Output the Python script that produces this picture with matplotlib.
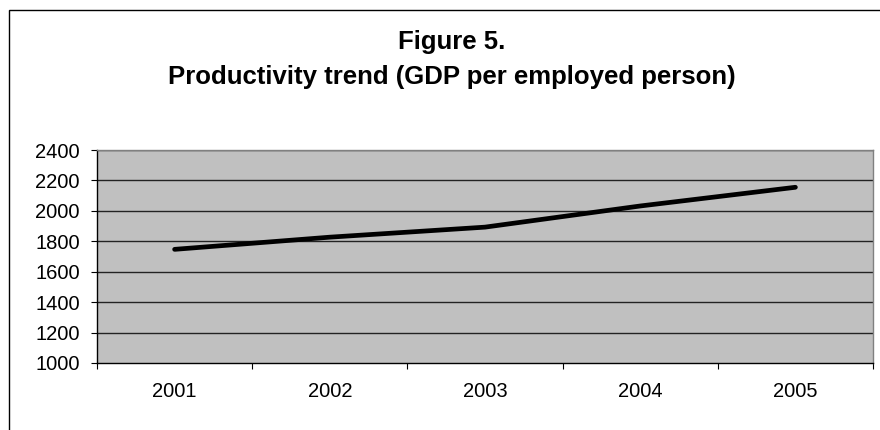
import matplotlib
matplotlib.use('Agg')
from matplotlib import pyplot as plt
from matplotlib.patches import Rectangle
import numpy as np

plt.rcParams['font.family'] = ['Liberation Sans', 'DejaVu Sans']

years = ['2001', '2002', '2003', '2004', '2005']
gdp_per_employed = [1747, 1827, 1893, 2032, 2155]
y_ticks = [1000, 1200, 1400, 1600, 1800, 2000, 2200, 2400]

fig = plt.figure(figsize=(8.8, 4.3), dpi=100)

# outer chart frame (runs off the right and bottom of the picture)
fig.patches.append(Rectangle((9 / 880, -0.05), 1.2, 1 - 10 / 430 + 0.05,
                             transform=fig.transFigure, fill=False,
                             edgecolor='black', linewidth=1.0))

fig.text(452 / 880, 1 - 42 / 430, 'Figure 5.', ha='center', va='center',
         fontsize=18.5, fontweight='bold')
fig.text(452 / 880, 1 - 77 / 430, 'Productivity trend (GDP per employed person)',
         ha='center', va='center', fontsize=18.5, fontweight='bold')

ax = fig.add_axes([97 / 880, 67 / 430, 776 / 880, 213 / 430])
ax.set_facecolor('#c0c0c0')

x = np.arange(len(years))
ax.plot(x, gdp_per_employed, color='black', linewidth=3.4, solid_capstyle='round',
        solid_joinstyle='round', zorder=3)

ax.set_xlim(-0.5, len(years) - 0.5)
ax.set_ylim(1000, 2400)
ax.set_yticks(y_ticks)
ax.set_yticklabels([str(v) for v in y_ticks])
for v in y_ticks[1:]:
    ax.axhline(v, color='#222222', linewidth=1.0, zorder=1)

# category labels centred, tick marks between categories
ax.set_xticks(x)
ax.set_xticklabels(years)
ax.set_xticks(np.arange(-0.5, len(years)), minor=True)
ax.tick_params(axis='x', which='major', length=0, pad=14, labelsize=14.5)
ax.tick_params(axis='x', which='minor', length=4.5, width=0.8, direction='out', color='black')
ax.tick_params(axis='y', length=4.5, width=0.8, direction='out', pad=8, labelsize=14.5)

for side in ['top', 'right']:
    ax.spines[side].set_color('#808080')
    ax.spines[side].set_linewidth(1.0)
ax.spines['left'].set_color('black')
ax.spines['bottom'].set_color('black')
ax.spines['left'].set_linewidth(1.0)
ax.spines['bottom'].set_linewidth(1.0)

plt.savefig('out.png', dpi=100)
